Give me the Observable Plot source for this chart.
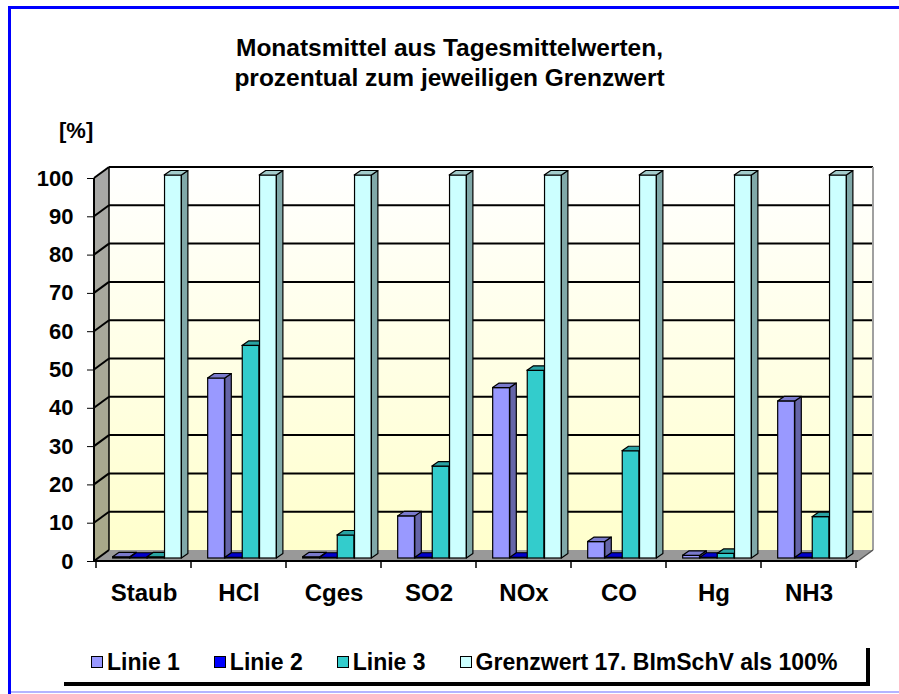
<!DOCTYPE html>
<html>
<head>
<meta charset="utf-8">
<script src="https://cdn.jsdelivr.net/npm/d3@7"></script>
<script src="https://cdn.jsdelivr.net/npm/@observablehq/plot@0.6"></script>
<style>
  html, body { margin: 0; padding: 0; background: #fff; }
  #page { position: relative; width: 899px; height: 694px; overflow: hidden; font-family: "Liberation Sans", Arial, sans-serif; font-weight: bold; color: #000; }
  #chart { position: absolute; left: 0; top: 0; }
  .title { position: absolute; left: 0; width: 899px; text-align: center; font-size: 24.5px; line-height: 30px; }
  #unit { position: absolute; left: 59px; top: 120px; font-size: 22px; line-height: 22px; }
  #bTop { position: absolute; left: 8px; top: 6px; width: 891px; height: 3px; background: #0000ff; }
  #bLeft { position: absolute; left: 8px; top: 6px; width: 3px; height: 688px; background: #0000ff; }
  #bBot { position: absolute; left: 11px; top: 691px; width: 888px; height: 2px; background: #b4b4ff; }
  #legendBox { position: absolute; left: 60px; top: 644px; width: 806px; height: 38px; background: #fff; box-shadow: 4px 4px 0 0 #000; }
  #legend { position: absolute; left: 91px; top: 648px; height: 28px; display: flex; align-items: center; gap: 34px; font-size: 23px; }
  .item { display: flex; align-items: center; gap: 4px; white-space: nowrap; }
  .sw { width: 10px; height: 10px; border: 1px solid #000; }
</style>
</head>
<body>
<div id="page">
  <div id="chart"></div>
  <div id="bTop"></div><div id="bLeft"></div><div id="bBot"></div>
  <div class="title" style="top:33px">Monatsmittel aus Tagesmittelwerten,</div>
  <div class="title" style="top:63px">prozentual zum jeweiligen Grenzwert</div>
  <div id="unit">[%]</div>
  <div id="legendBox"></div>
  <div id="legend"></div>
</div>
<script>
// ---- data ----
const categories = ["Staub", "HCl", "Cges", "SO2", "NOx", "CO", "Hg", "NH3"];
const seriesNames = ["Linie 1", "Linie 2", "Linie 3", "Grenzwert 17. BImSchV als 100%"];
const linie1 = [0.3, 47, 0.3, 11, 44.5, 4.3, 0.7, 41];
const linie2 = [0.2, 0.2, 0.2, 0.2, 0.2, 0.2, 0.2, 0.2];
const linie3 = [0.3, 55.5, 6, 24, 49, 28, 1.2, 10.8];
const grenzwert = [100, 100, 100, 100, 100, 100, 100, 100];
const yTicks = [0, 10, 20, 30, 40, 50, 60, 70, 80, 90, 100];

// ---- styles ----
const frontColors = ["#9999ff", "#0000ff", "#33cccc", "#ccffff"];
const sideColors  = ["#6565a8", "#0000a8", "#229090", "#80a8a8"];
const topColors   = ["#7a7acc", "#0000cc", "#29a3a3", "#a3cccc"];

const seriesValues = [linie1, linie2, linie3, grenzwert];
const rowsBySeries = seriesValues.map((vals, s) =>
  categories.map((c, i) => ({cat: c, series: seriesNames[s], value: vals[i]})));

const W = 899, H = 620;
const mL = 94, mR = 41, mT = 178, mB = 59;
const DX = 15, DY = -11;        // wall depth
const OX = 4.5, OY = -3;        // bar plane offset
const BDX = 6.5, BDY = -4.5;    // bar depth
const bwPx = (W - mL - mR) / categories.length;
const barFrac = 0.181;
const barW = bwPx * barFrac;
const pad = (bwPx - 4 * barW) / 2 - 1;

function walls(index, scales, values, dims) {
  const x = scales.x, y = scales.y;
  const x0 = dims.marginLeft, x1 = dims.width - dims.marginRight;
  const yT = y(100), yB = y(0);
  const g = d3.create("svg:g");
  const defs = g.append("defs");
  const gw = defs.append("linearGradient").attr("id", "wallGrad").attr("x1", 0).attr("y1", 0).attr("x2", 0).attr("y2", 1);
  gw.append("stop").attr("offset", "0%").attr("stop-color", "#ffffff");
  gw.append("stop").attr("offset", "100%").attr("stop-color", "#ffffcc");
  const gs = defs.append("linearGradient").attr("id", "sideGrad").attr("x1", 0).attr("y1", 0).attr("x2", 0).attr("y2", 1);
  gs.append("stop").attr("offset", "0%").attr("stop-color", "#a8a8a8");
  gs.append("stop").attr("offset", "100%").attr("stop-color", "#a8a888");
  // back wall
  g.append("rect").attr("x", x0 + DX).attr("y", yT + DY).attr("width", x1 - x0).attr("height", yB - yT).attr("fill", "url(#wallGrad)");
  // side wall
  g.append("polygon").attr("points", [[x0, yT], [x0 + DX, yT + DY], [x0 + DX, yB + DY], [x0, yB]].join(" ")).attr("fill", "url(#sideGrad)");
  // floor
  g.append("polygon").attr("points", [[x0, yB], [x1, yB], [x1 + DX, yB + DY], [x0 + DX, yB + DY]].join(" ")).attr("fill", "#999999");
  // grid lines
  for (const t of yTicks) {
    const yy = y(t);
    if (t > 0) g.append("line").attr("x1", x0 + DX).attr("x2", x1 + DX).attr("y1", yy + DY).attr("y2", yy + DY).attr("stroke", "#000").attr("stroke-width", 2);
    g.append("line").attr("x1", x0).attr("x2", x0 + DX).attr("y1", yy).attr("y2", yy + DY).attr("stroke", "#000").attr("stroke-width", 2);
  }
  // wall edges
  g.append("line").attr("x1", x0 + DX).attr("x2", x0 + DX).attr("y1", yT + DY).attr("y2", yB + DY).attr("stroke", "#000").attr("stroke-width", 1.5);
  g.append("line").attr("x1", x1 + DX).attr("x2", x1 + DX).attr("y1", yT + DY).attr("y2", yB + DY).attr("stroke", "#a0a0a0").attr("stroke-width", 2);
  g.append("line").attr("x1", x1).attr("x2", x1 + DX).attr("y1", yB).attr("y2", yB + DY).attr("stroke", "#555").attr("stroke-width", 1.5);
  // front axis line and floor front edge
  g.append("line").attr("x1", x0).attr("x2", x0).attr("y1", yT).attr("y2", yB).attr("stroke", "#000").attr("stroke-width", 2);
  g.append("line").attr("x1", x0).attr("x2", x1).attr("y1", yB).attr("y2", yB).attr("stroke", "#000").attr("stroke-width", 2);
  // category boundary ticks
  const bw = x(categories[1]) - x(categories[0]);
  for (let i = 0; i <= categories.length; i++) {
    const xx = x(categories[0]) + i * bw;
    g.append("line").attr("x1", xx).attr("x2", xx).attr("y1", yB).attr("y2", yB + 7).attr("stroke", "#000").attr("stroke-width", 1.5);
  }
  return g.node();
}

function faces(s) {
  return (index, scales, values, dims) => {
    const x = scales.x, y = scales.y;
    const bw = x(categories[1]) - x(categories[0]);
    const bW = bw * barFrac, p = (bw - 4 * bW) / 2 - 1;
    const g = d3.create("svg:g");
    categories.forEach((c, i) => {
      const v = seriesValues[s][i];
      const xl = x(c) + p + s * bW + OX, xr = xl + bW;
      const yt = y(v) + OY, yb = y(0) + OY;
      g.append("polygon").attr("points", [[xr, yb], [xr + BDX, yb + BDY], [xr + BDX, yt + BDY], [xr, yt]].join(" "))
        .attr("fill", sideColors[s]).attr("stroke", "#000").attr("stroke-width", 1.2).attr("stroke-linejoin", "round");
      g.append("polygon").attr("points", [[xl, yt], [xr, yt], [xr + BDX, yt + BDY], [xl + BDX, yt + BDY]].join(" "))
        .attr("fill", topColors[s]).attr("stroke", "#000").attr("stroke-width", 1.2).attr("stroke-linejoin", "round");
    });
    return g.node();
  };
}

const marks = [walls];
seriesValues.forEach((vals, s) => {
  marks.push(Plot.barY(rowsBySeries[s], {
    x: "cat", y: "value", fill: frontColors[s], stroke: "#000", strokeWidth: 1.2,
    insetLeft: pad + s * barW, insetRight: bwPx - pad - (s + 1) * barW,
    dx: OX, dy: OY
  }));
  marks.push(faces(s));
});
marks.push(Plot.axisY({ticks: yTicks, tickSize: 7, tickPadding: 14, fontSize: 22, fontWeight: "bold", label: null, tickFormat: d => String(d)}));
marks.push(Plot.axisX({tickSize: 0, tickPadding: 22, fontSize: 24, fontWeight: "bold", label: null}));

const chart = Plot.plot({
  width: W, height: H,
  marginLeft: mL, marginRight: mR, marginTop: mT, marginBottom: mB,
  style: {background: "transparent", fontFamily: "'Liberation Sans', Arial, sans-serif", color: "#000", overflow: "visible"},
  x: {domain: categories, padding: 0},
  y: {domain: [0, 100]},
  marks
});
document.getElementById("chart").appendChild(chart);

// legend
const leg = document.getElementById("legend");
seriesNames.forEach((n, s) => {
  const it = document.createElement("div");
  it.className = "item";
  const sw = document.createElement("div");
  sw.className = "sw";
  sw.style.background = frontColors[s];
  const tx = document.createElement("span");
  tx.textContent = n;
  it.appendChild(sw); it.appendChild(tx);
  leg.appendChild(it);
});
</script>
</body>
</html>
